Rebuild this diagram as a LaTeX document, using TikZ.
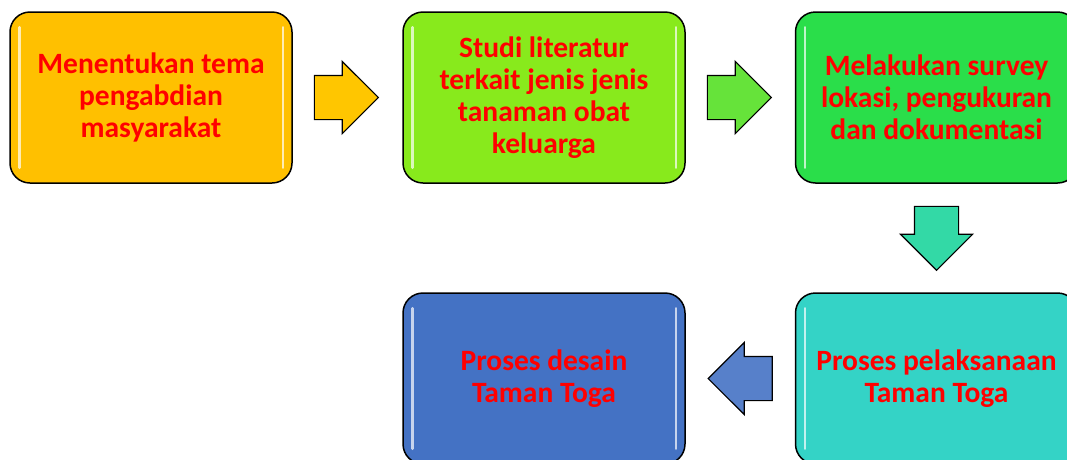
\documentclass[tikz,border=0pt]{standalone}
\usepackage{fontspec}
\setmainfont{Carlito}
\usetikzlibrary{shapes.arrows,calc}

\definecolor{temaorange}{HTML}{FFC000}
\definecolor{studigreen}{HTML}{88EA1C}
\definecolor{surveygreen}{HTML}{2ADE4A}
\definecolor{desainblue}{HTML}{4472C4}
\definecolor{laksanateal}{HTML}{34D3C6}
\definecolor{arrowmint}{HTML}{33D9A6}
\definecolor{arrowgreen}{HTML}{66E33A}

\tikzset{
    stepbox/.style={draw=black, line width=1.5pt, rounded corners=20pt,
        minimum width=282pt, minimum height=171pt, align=center, text=red,
        font=\bfseries\fontsize{29.5}{32}\selectfont},
    flowarrow/.style={single arrow, draw=black, line width=1.2pt, inner xsep=0pt,
        inner ysep=21.5pt, minimum height=64pt, single arrow head extend=14pt, anchor=tail},
    gloss/.style={white, opacity=0.7, line width=2.5pt, line cap=round}
}

\begin{document}
\begin{tikzpicture}[x=1pt, y=-1pt]
    \useasboundingbox (0,0) rectangle (1067,459);
    \node[stepbox, fill=temaorange] (tema) at (151,97.5) {Menentukan tema\\pengabdian\\masyarakat};
    \node[stepbox, fill=studigreen] (studi) at (544,97.5) {Studi literatur\\terkait jenis jenis\\tanaman obat\\keluarga};
    \node[stepbox, fill=surveygreen] (survey) at (936.5,97.5) {Melakukan survey\\lokasi, pengukuran\\dan dokumentasi};
    \node[stepbox, fill=laksanateal] (laksana) at (936.5,378.5) {Proses pelaksanaan\\Taman Toga};
    \node[stepbox, fill=desainblue] (desain) at (544,378.5) {Proses desain\\Taman Toga};
    \foreach \b in {tema,studi,survey,laksana,desain} {
        \draw[gloss] ($(\b.north west)+(10,16)$) -- ($(\b.south west)+(10,-16)$);
        \draw[gloss] ($(\b.north east)+(-10,16)$) -- ($(\b.south east)+(-10,-16)$);
    }
    \node[flowarrow, fill=temaorange!90!yellow] (temastudi) at ($(tema.east)+(21,0)$) {};
    \node[flowarrow, fill=arrowgreen] (studisurvey) at ($(studi.east)+(21,0)$) {};
    \node[flowarrow, fill=arrowmint, rotate=-90] (surveylaksana) at ($(survey.south)+(0,22)$) {};
    \node[flowarrow, fill=desainblue!90!white, rotate=180] (laksanadesain) at ($(laksana.west)+(-22,0)$) {};
\end{tikzpicture}
\end{document}
